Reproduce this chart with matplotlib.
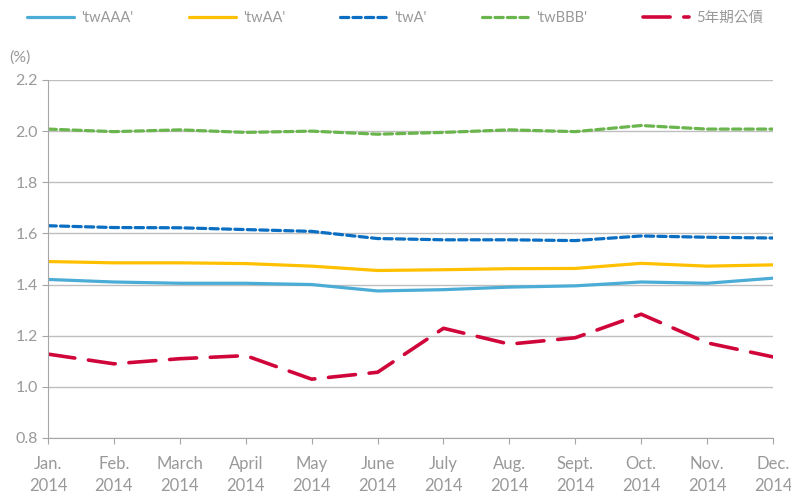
import matplotlib.pyplot as plt
import numpy as np

months = ['Jan.\n2014', 'Feb.\n2014', 'March\n2014', 'April\n2014', 'May\n2014', 'June\n2014',
          'July\n2014', 'Aug.\n2014', 'Sept.\n2014', 'Oct.\n2014', 'Nov.\n2014', 'Dec.\n2014']
tw_aaa = [1.42, 1.41, 1.405, 1.405, 1.40, 1.375, 1.38, 1.39, 1.395, 1.41, 1.405, 1.425]
tw_aa = [1.49, 1.485, 1.485, 1.482, 1.472, 1.455, 1.458, 1.462, 1.463, 1.483, 1.472, 1.477]
tw_a = [1.63, 1.623, 1.622, 1.615, 1.608, 1.58, 1.575, 1.575, 1.572, 1.59, 1.585, 1.582]
tw_bbb = [2.008, 1.998, 2.005, 1.995, 2.0, 1.988, 1.995, 2.005, 1.998, 2.022, 2.008, 2.008]
gov5 = [1.128, 1.09, 1.11, 1.122, 1.03, 1.057, 1.229, 1.167, 1.192, 1.284, 1.172, 1.117]
labels = ["'twAAA'", "'twAA'", "'twA'", "'twBBB'", "5年期公債"]

plt.rcParams['font.family'] = ['Lato', 'Noto Sans CJK TC', 'DejaVu Sans']
grey = '#999999'

fig = plt.figure(figsize=(7.91, 4.95), dpi=100)
ax = fig.add_axes([0.0607, 0.1152, 0.9166, 0.7232])
x = np.arange(len(months))

ax.plot(x, tw_aaa, color='#4BACD6', lw=2.3, label=labels[0], solid_capstyle='round')
ax.plot(x, tw_aa, color='#FFC000', lw=2.3, label=labels[1], solid_capstyle='round')
ax.plot(x, tw_a, color='#0A6EC2', lw=2.3, ls=(0, (2.6, 1.3)), label=labels[2], dash_capstyle='round')
ax.plot(x, tw_bbb, color='#6BB54E', lw=2.3, ls=(0, (2.6, 1.3)), label=labels[3], dash_capstyle='round')
ax.plot(x, gov5, color='#D0063A', lw=2.6, ls=(0, (7.5, 3.8)), label=labels[4], dash_capstyle='round')

ax.set_xlim(0, len(months) - 1)
ax.set_ylim(0.8, 2.2)
ax.set_yticks(np.arange(0.8, 2.21, 0.2))
ax.set_yticklabels([f'{v:.1f}' for v in np.arange(0.8, 2.21, 0.2)])
ax.set_xticks(x)
ax.set_xticklabels(months, linespacing=1.45)
ax.grid(axis='y', color='#BFBFBF', lw=1)
ax.set_axisbelow(True)
for s in ['top', 'right']:
    ax.spines[s].set_visible(False)
for s in ['left', 'bottom']:
    ax.spines[s].set_color('#A6A6A6')
ax.tick_params(axis='both', colors='#A6A6A6', labelcolor=grey, labelsize=12, length=4)
ax.tick_params(axis='x', pad=9)
ax.tick_params(axis='y', labelsize=11.5)

fig.text(0.012, 0.875, '(%)', color=grey, fontsize=11.5)

fig.legend(loc='upper left', bbox_to_anchor=(0.018, 1.005), ncol=5, frameon=False,
           handlelength=3.2, columnspacing=3.8, handletextpad=0.5,
           labelcolor=grey, fontsize=10.5)

fig.savefig('out.png', dpi=100)
